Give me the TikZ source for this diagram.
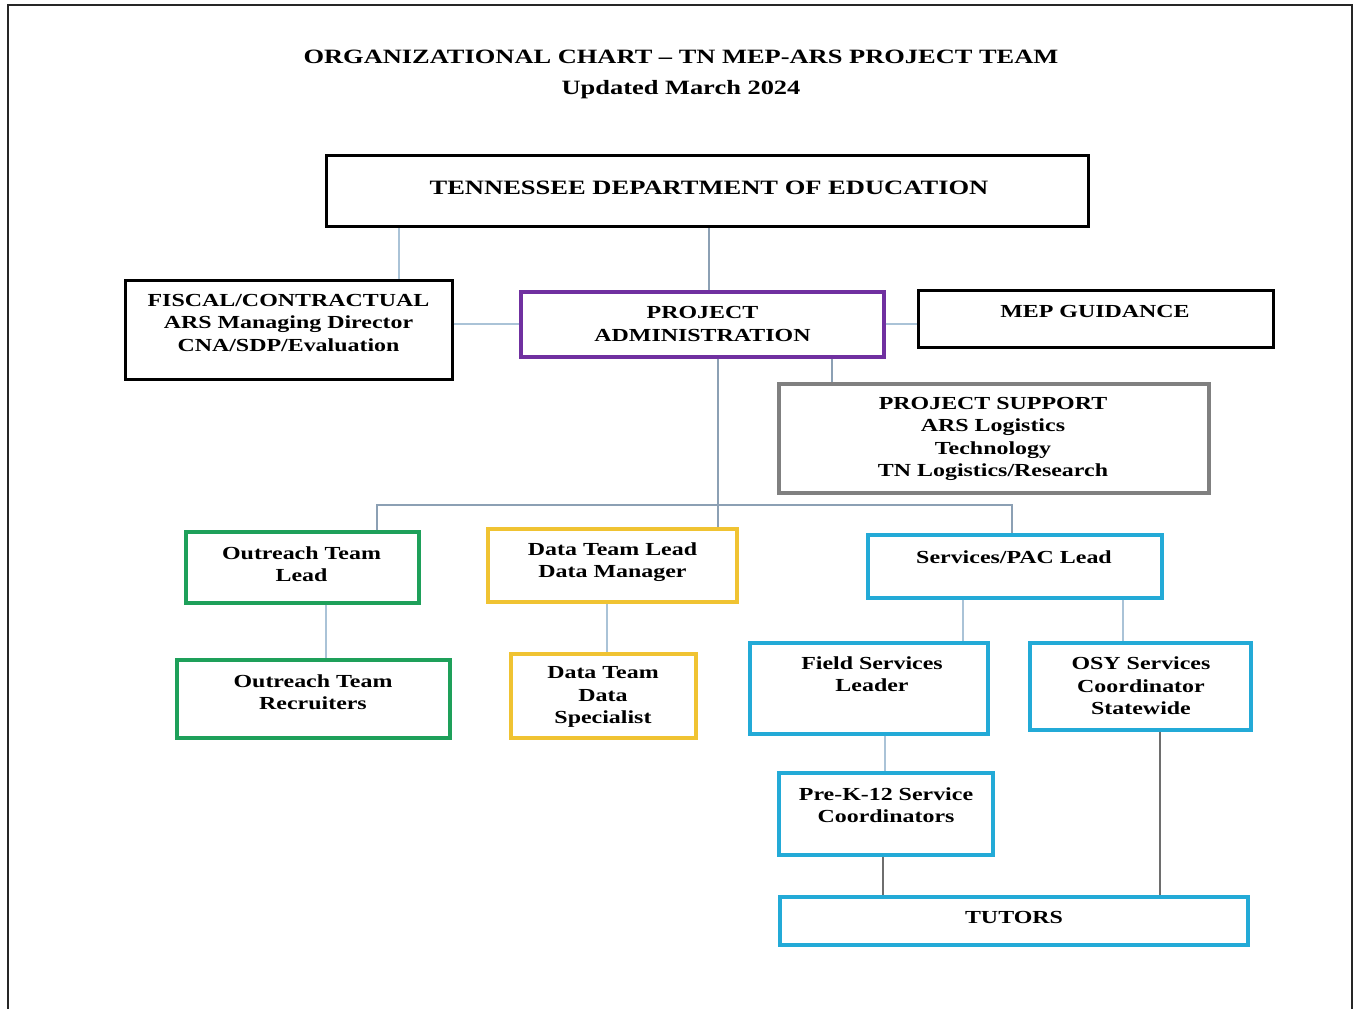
\documentclass[tikz,border=0pt]{standalone}
\usepackage{fontspec}
\setmainfont[FakeStretch=1.3]{Liberation Serif}
\usetikzlibrary{fit}
\definecolor{cpurple}{RGB}{112,48,160}
\definecolor{cgray}{RGB}{128,128,128}
\definecolor{cgreen}{RGB}{30,160,90}
\definecolor{cgold}{RGB}{240,195,50}
\definecolor{ccyan}{RGB}{35,170,215}
\definecolor{clight}{RGB}{170,195,215}
\definecolor{cline}{RGB}{140,160,180}
\definecolor{cdark}{RGB}{110,110,110}
\tikzset{
  boxblack/.style={draw=black, line width=2.25pt, inner sep=0pt},
  boxcol/.style={draw=#1, line width=2.6pt, inner sep=0pt},
  txt/.style={font=\bfseries\fontsize{13.8}{16.9}\selectfont, align=center, inner sep=0pt},
  bigtxt/.style={font=\bfseries\fontsize{15.3}{18}\selectfont, inner sep=0pt},
  ttl/.style={font=\bfseries\fontsize{15.25}{18}\selectfont, inner sep=0pt},
  conn/.style={draw=cline, line width=0.9pt},
  lconn/.style={draw=clight, line width=0.9pt},
  dconn/.style={draw=cdark, line width=0.9pt}
}
\begin{document}
\begin{tikzpicture}[x=0.75pt,y=-0.75pt]
\useasboundingbox (0,0) rectangle (1354,1009);
% page frame
\draw[line width=1.9pt, black!85] (8,1009) -- (8,5) -- (1352,5) -- (1352,1009);

% title
\node[ttl] (title1) at (681,57) {ORGANIZATIONAL CHART – TN MEP-ARS PROJECT TEAM};
\node[ttl] (title2) at (681,90) {Updated March 2024};

% boxes
\node[boxblack, fit={(326,156) (1088,227)}] (tdoe) {};
\node[boxblack, fit={(125,281) (452,380)}] (fiscal) {};
\node[boxcol=cpurple, fit={(521,292) (884,357)}] (pa) {};
\node[boxblack, fit={(918,291) (1273,348)}] (mep) {};
\node[boxcol=cgray, fit={(779,384) (1209,493)}] (ps) {};
\node[boxcol=cgreen, fit={(186,532) (419,603)}] (ol) {};
\node[boxcol=cgold, fit={(488,529) (737,602)}] (dl) {};
\node[boxcol=ccyan, fit={(868,535) (1162,598)}] (sl) {};
\node[boxcol=cgreen, fit={(177,660) (450,738)}] (orc) {};
\node[boxcol=cgold, fit={(511,654) (696,738)}] (ds) {};
\node[boxcol=ccyan, fit={(750,643) (988,734)}] (fs) {};
\node[boxcol=ccyan, fit={(1030,643) (1251,730)}] (osy) {};
\node[boxcol=ccyan, fit={(779,773) (993,855)}] (pk) {};
\node[boxcol=ccyan, fit={(780,897) (1248,945)}] (tut) {};

% texts
\node[bigtxt] (tdoe-t) at (709,188) {TENNESSEE DEPARTMENT OF EDUCATION};
\node[txt] (fiscal-t) at (288.5,323) {FISCAL/CONTRACTUAL\\ARS Managing Director\\CNA/SDP/Evaluation};
\node[txt] (pa-t) at (702.5,324) {PROJECT\\ADMINISTRATION};
\node[txt] (mep-t) at (1095,311) {MEP GUIDANCE};
\node[txt] (ps-t) at (993,439) {PROJECT SUPPORT\\ARS Logistics\\Technology\\TN Logistics/Research};
\node[txt] (ol-t) at (301.5,564) {Outreach Team\\Lead};
\node[txt] (dl-t) at (612.5,562) {Data Team Lead\\Data Manager};
\node[txt] (sl-t) at (1014,557) {Services/PAC Lead};
\node[txt] (orc-t) at (313,692) {Outreach Team\\Recruiters};
\node[txt] (ds-t) at (603,697) {Data Team\\Data\\Specialist};
\node[txt] (fs-t) at (872,674) {Field Services\\Leader};
\node[txt] (osy-t) at (1141,686) {OSY Services\\Coordinator\\Statewide};
\node[txt] (pk-t) at (886,805) {Pre-K-12 Service\\Coordinators};
\node[txt] (tut-t) at (1014,917) {TUTORS};

% connector columns / rows
\coordinate (k399) at (399,0);
\coordinate (k709) at (709,0);
\coordinate (k832) at (832,0);
\coordinate (k718) at (718,0);
\coordinate (k377) at (377,0);
\coordinate (k1012) at (1012,0);
\coordinate (k326) at (326,0);
\coordinate (k607) at (607,0);
\coordinate (k963) at (963,0);
\coordinate (k1123) at (1123,0);
\coordinate (k885) at (885,0);
\coordinate (k883) at (883,0);
\coordinate (k1160) at (1160,0);
\coordinate (bus) at (0,505);
\coordinate (h324) at (0,324);

% connectors
\draw[conn] (tdoe.south -| k709) -- (pa.north -| k709);
\draw[lconn] (tdoe.south -| k399) -- (fiscal.north -| k399);
\draw[lconn] (fiscal.east |- h324) -- (pa.west |- h324);
\draw[lconn] (pa.east |- h324) -- (mep.west |- h324);
\draw[conn] (pa.south -| k832) -- (ps.north -| k832);
\draw[conn] (pa.south -| k718) -- (dl.north -| k718);
\draw[conn] (ol.north -| k377) -- (bus -| k377) -- (bus -| k1012) -- (sl.north -| k1012);
\draw[lconn] (ol.south -| k326) -- (orc.north -| k326);
\draw[lconn] (dl.south -| k607) -- (ds.north -| k607);
\draw[lconn] (sl.south -| k963) -- (fs.north -| k963);
\draw[lconn] (sl.south -| k1123) -- (osy.north -| k1123);
\draw[lconn] (fs.south -| k885) -- (pk.north -| k885);
\draw[dconn] (pk.south -| k883) -- (tut.north -| k883);
\draw[dconn] (osy.south -| k1160) -- (tut.north -| k1160);
\end{tikzpicture}
\end{document}
